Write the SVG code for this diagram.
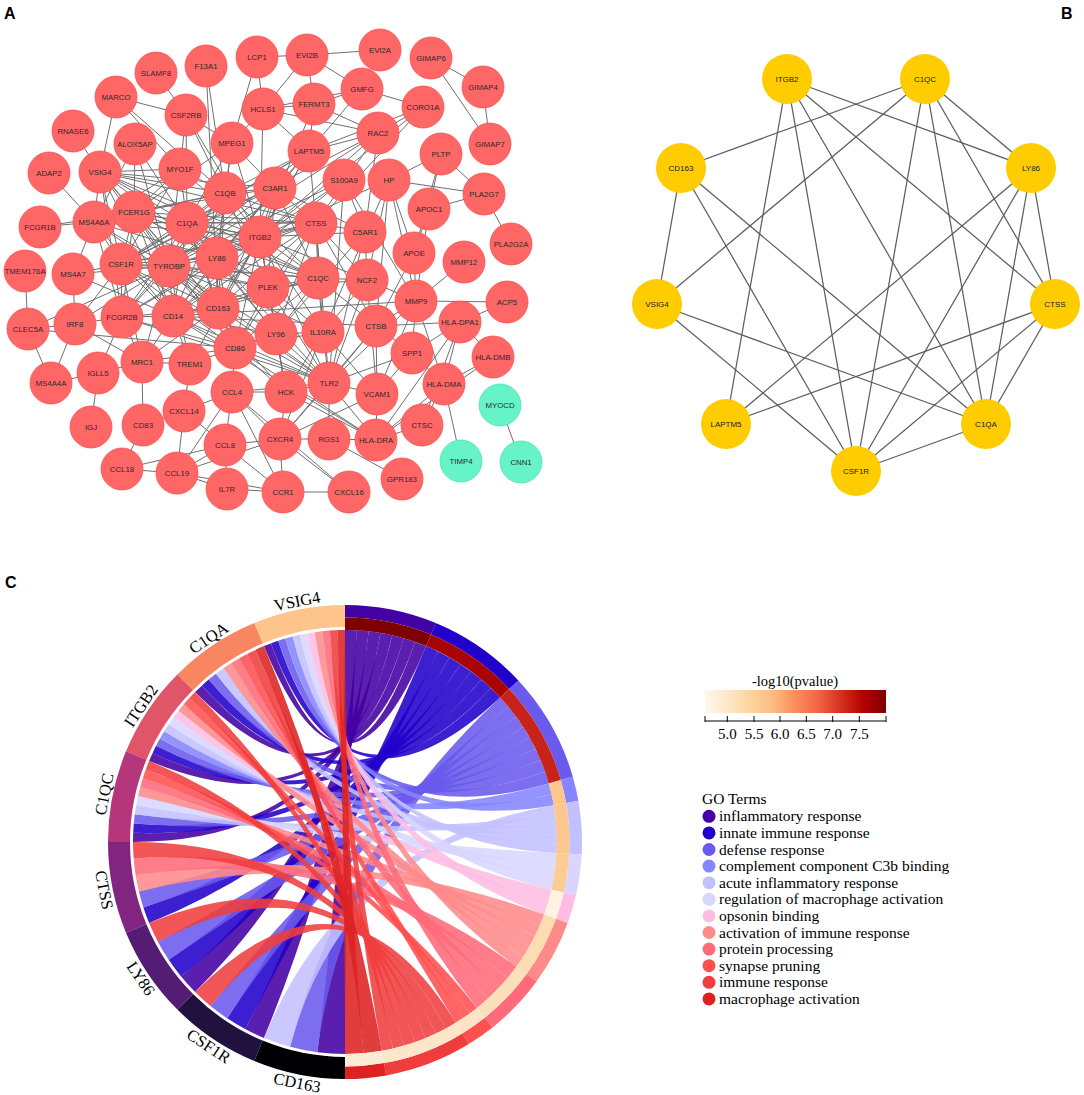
<svg xmlns="http://www.w3.org/2000/svg" width="1084" height="1095" viewBox="0 0 1084 1095">
<style>
.e path{stroke:#707070;stroke-width:1;fill:none}
.eb line{stroke:#5e5e5e;stroke-width:1.25}
.na circle{fill:#ff6666;stroke:#fa5050;stroke-width:.8}
.na .nt circle{fill:#66f3c8;stroke:#50e3b4}
.na text{font-family:"Liberation Sans",Arial,sans-serif;font-size:7.8px;fill:#2a2a2a;text-anchor:middle;dominant-baseline:central}
.nb circle{fill:#ffcc00}
.nb text{font-family:"Liberation Sans",Arial,sans-serif;font-size:8px;fill:#222;text-anchor:middle;dominant-baseline:central}
.pl{font-family:"Liberation Sans",Arial,sans-serif;font-weight:bold;font-size:16px;fill:#000}
.sf{font-family:"Liberation Serif","Times New Roman",serif;fill:#000}
.gl{font-size:16.5px;text-anchor:middle}
.rb path{fill-opacity:.88}
.c1{fill:#4300a3}.c2{fill:#2100cb}.c3{fill:#6a5aed}.c4{fill:#8585ff}.c5{fill:#c3c0ff}.c6{fill:#d8d6ff}
.c7{fill:#ffbde3}.c8{fill:#ff8a8a}.c9{fill:#ff6b7b}.c10{fill:#ff5050}.c11{fill:#ef3d3d}.c12{fill:#dd2222}
.lg text{font-size:15.5px}
</style>
<defs>
<linearGradient id="cbar" x1="0" x2="1" y1="0" y2="0">
<stop offset="0" stop-color="#fff7ec"/><stop offset=".125" stop-color="#fee8c8"/><stop offset=".25" stop-color="#fdd49e"/><stop offset=".375" stop-color="#fdbb84"/><stop offset=".5" stop-color="#fc8d59"/><stop offset=".625" stop-color="#ef6548"/><stop offset=".75" stop-color="#d7301f"/><stop offset=".875" stop-color="#b30000"/><stop offset="1" stop-color="#7f0000"/>
</linearGradient>
</defs>
<rect width="1084" height="1095" fill="#fff"/>
<text class="pl" x="4" y="19">A</text>
<text class="pl" x="1061" y="19">B</text>
<text class="pl" x="5" y="588">C</text>

<g id="connectors-a" class="e">
<path d="M100 172L94 222M100 172L134 212M100 172L187 223M100 172L225 193M100 172L275 188M100 172L260 237M100 172L121 264M100 172L169 266M100 172L217 258M100 172L173 316M100 172L218 308M100 172L122 317M100 172L318 278M100 172L180 169M100 172L316 223M100 172L73 131M100 172L116 97"/>
<path d="M94 222L134 212M94 222L187 223M94 222L121 264M94 222L169 266M94 222L217 258M94 222L173 316M94 222L218 308M94 222L122 317M94 222L260 237M94 222L225 193M94 222L316 223M94 222L40 227M94 222L49 173M94 222L73 274M94 222L135 144M94 222L180 169"/>
<path d="M134 212L187 223M134 212L225 193M134 212L260 237M134 212L121 264M134 212L169 266M134 212L217 258M134 212L173 316M134 212L218 308M134 212L122 317M134 212L235 348M134 212L316 223M134 212L318 278M134 212L268 287M134 212L275 188M134 212L40 227M134 212L135 144M134 212L232 143M134 212L180 169"/>
<path d="M187 223L225 193M187 223L260 237M187 223L121 264M187 223L169 266M187 223L217 258M187 223L318 278M187 223L218 308M187 223L173 316M187 223L316 223M187 223L275 188M187 223L122 317M187 223L235 348M187 223L268 287M187 223L276 334M187 223L309 151M187 223L135 144M187 223L186 115M187 223L232 143M187 223L180 169"/>
<path d="M225 193L260 237M225 193L275 188M225 193L169 266M225 193L217 258M225 193L318 278M225 193L218 308M225 193L316 223M225 193L121 264M225 193L173 316M225 193L122 317M225 193L268 287M225 193L206 66M225 193L309 151M225 193L116 97M225 193L186 115M225 193L232 143M225 193L180 169"/>
<path d="M275 188L260 237M275 188L316 223M275 188L169 266M275 188L217 258M275 188L318 278M275 188L218 308M275 188L173 316M275 188L268 287M275 188L121 264M275 188L309 151M275 188L365 232M275 188L232 143"/>
<path d="M260 237L316 223M260 237L121 264M260 237L169 266M260 237L217 258M260 237L318 278M260 237L173 316M260 237L218 308M260 237L122 317M260 237L235 348M260 237L268 287M260 237L276 334M260 237L329 383M260 237L323 332M260 237L367 280M260 237L286 392M260 237L190 364M260 237L423 107M260 237L314 104M260 237L263 109M260 237L378 133M260 237L309 151M260 237L389 180M260 237L344 180M260 237L365 232M260 237L186 115M260 237L232 143M260 237L180 169"/>
<path d="M316 223L169 266M316 223L217 258M316 223L318 278M316 223L218 308M316 223L173 316M316 223L121 264M316 223L268 287M316 223L235 348M316 223L276 334M316 223L323 332M316 223L367 280M316 223L329 383M316 223L423 107M316 223L378 133M316 223L309 151M316 223L365 232M316 223L376 326"/>
<path d="M121 264L169 266M121 264L217 258M121 264L173 316M121 264L218 308M121 264L122 317M121 264L235 348M121 264L318 278M121 264L268 287M121 264L142 362M121 264L329 383M121 264L378 133M121 264L309 151M121 264L75 324M121 264L73 274M121 264L180 169"/>
<path d="M169 266L217 258M169 266L173 316M169 266L218 308M169 266L122 317M169 266L235 348M169 266L318 278M169 266L268 287M169 266L190 364M169 266L329 383M169 266L276 334M169 266L142 362M169 266L286 392M169 266L323 332M169 266L378 133M169 266L309 151M169 266L344 180M169 266L28 329M169 266L75 324M169 266L73 274M169 266L135 144M169 266L180 169"/>
<path d="M217 258L173 316M217 258L218 308M217 258L318 278M217 258L268 287M217 258L276 334M217 258L235 348M217 258L329 383M217 258L122 317M217 258L309 151M217 258L232 143"/>
<path d="M318 278L218 308M318 278L173 316M318 278L268 287M318 278L235 348M318 278L323 332M318 278L367 280M318 278L276 334M318 278L376 326"/>
<path d="M173 316L218 308M173 316L122 317M173 316L235 348M173 316L329 383M173 316L276 334M173 316L190 364M173 316L142 362M173 316L268 287M173 316L344 180M173 316L416 301M173 316L376 326M173 316L376 440M173 316L73 274"/>
<path d="M218 308L235 348M218 308L268 287M218 308L142 362M218 308L329 383M218 308L122 317M218 308L206 66M218 308L309 151"/>
<path d="M122 317L235 348M122 317L329 383M122 317L142 362M122 317L75 324M122 317L98 373"/>
<path d="M235 348L329 383M235 348L276 334M235 348L268 287M235 348L190 364M235 348L323 332M235 348L286 392M235 348L232 392M235 348L376 440M235 348L28 329M235 348L142 362"/>
<path d="M268 287L276 334M268 287L323 332M268 287L329 383M268 287L286 392M268 287L367 280"/>
<path d="M276 334L329 383M276 334L323 332M276 334L286 392M276 334L365 232"/>
<path d="M323 332L329 383M323 332L286 392M323 332L367 280M323 332L389 180M323 332L377 394M323 332L280 439"/>
<path d="M329 383L286 392M329 383L367 280M329 383L344 180M329 383L365 232M329 383L416 301M329 383L376 326M329 383L412 353M329 383L377 394M329 383L376 440M329 383L329 439M329 383L280 439M329 383L232 392"/>
<path d="M156 73L186 115M257 57L232 143M257 57L263 109M257 57L307 55M307 55L380 50M307 55L314 104M307 55L263 109M307 55L362 89M431 58L483 87M431 58L490 144M483 87L490 144"/>
<path d="M362 89L423 107M362 89L314 104M362 89L309 151M362 89L263 109M423 107L378 133M423 107L309 151M314 104L378 133M314 104L263 109M314 104L309 151M263 109L378 133M263 109L309 151M263 109L232 143M378 133L309 151M378 133L365 232"/>
<path d="M389 180L441 154M389 180L484 194M389 180L414 253M389 180L376 326M389 180L416 301M389 180L367 280M441 154L429 209M441 154L414 253M441 154L484 194M429 209L484 194M429 209L414 253M429 209L416 301M484 194L511 244M344 180L416 301M344 180L365 232M365 232L367 280M414 253L416 301M414 253L376 326M464 262L416 301"/>
<path d="M416 301L507 302M416 301L412 353M416 301L376 326M416 301L377 394M416 301L444 384M416 301L367 280M507 302L460 322M460 322L493 357M460 322L444 384M460 322L376 440M460 322L376 326M460 322L412 353M460 322L422 425M493 357L444 384M493 357L376 440M444 384L461 461M444 384L422 425M444 384L376 440M444 384L412 353M500 405L521 462"/>
<path d="M376 440L422 425M376 440L377 394M376 440L329 439M376 440L286 392M376 326L377 394M376 326L412 353M412 353L377 394M377 394L280 439M377 394L367 280M329 439L402 479M329 439L280 439"/>
<path d="M280 439L283 492M280 439L349 492M280 439L232 392M280 439L225 445M280 439L177 473M280 439L286 392M280 439L376 326M283 492L349 492M283 492L225 445M283 492L232 392M283 492L177 473M283 492L227 489M232 392L225 445M232 392L286 392M232 392L177 473M232 392L184 411M232 392L349 492"/>
<path d="M225 445L177 473M225 445L184 411M225 445L227 489M225 445L122 469M177 473L122 469M177 473L227 489M177 473L184 411M122 469L143 425M143 425L142 362M143 425L184 411M184 411L190 364"/>
<path d="M142 362L98 373M142 362L190 364M142 362L75 324M98 373L51 383M98 373L91 427M51 383L28 329M51 383L75 324M28 329L25 271M28 329L75 324M75 324L73 274M116 97L186 115M116 97L180 169M186 115L180 169M186 115L232 143"/>
</g>

<g id="nodes-a" class="na">
<g id="a-SLAMF8" transform="translate(156 73)"><circle r="21"/><text>SLAMF8</text></g>
<g id="a-F13A1" transform="translate(206 66)"><circle r="21"/><text>F13A1</text></g>
<g id="a-LCP1" transform="translate(257 57)"><circle r="21"/><text>LCP1</text></g>
<g id="a-EVI2B" transform="translate(307 55)"><circle r="21"/><text>EVI2B</text></g>
<g id="a-EVI2A" transform="translate(380 50)"><circle r="21"/><text>EVI2A</text></g>
<g id="a-GIMAP6" transform="translate(431 58)"><circle r="21"/><text>GIMAP6</text></g>
<g id="a-GIMAP4" transform="translate(483 87)"><circle r="21"/><text>GIMAP4</text></g>
<g id="a-GMFG" transform="translate(362 89)"><circle r="21"/><text>GMFG</text></g>
<g id="a-MARCO" transform="translate(116 97)"><circle r="21"/><text>MARCO</text></g>
<g id="a-CSF2RB" transform="translate(186 115)"><circle r="21"/><text>CSF2RB</text></g>
<g id="a-HCLS1" transform="translate(263 109)"><circle r="21"/><text>HCLS1</text></g>
<g id="a-FERMT3" transform="translate(314 104)"><circle r="21"/><text>FERMT3</text></g>
<g id="a-CORO1A" transform="translate(423 107)"><circle r="21"/><text>CORO1A</text></g>
<g id="a-RNASE6" transform="translate(73 131)"><circle r="21"/><text>RNASE6</text></g>
<g id="a-ALOX5AP" transform="translate(135 144)"><circle r="21"/><text>ALOX5AP</text></g>
<g id="a-MPEG1" transform="translate(232 143)"><circle r="21"/><text>MPEG1</text></g>
<g id="a-RAC2" transform="translate(378 133)"><circle r="21"/><text>RAC2</text></g>
<g id="a-LAPTM5" transform="translate(309 151)"><circle r="21"/><text>LAPTM5</text></g>
<g id="a-GIMAP7" transform="translate(490 144)"><circle r="21"/><text>GIMAP7</text></g>
<g id="a-PLTP" transform="translate(441 154)"><circle r="21"/><text>PLTP</text></g>
<g id="a-ADAP2" transform="translate(49 173)"><circle r="21"/><text>ADAP2</text></g>
<g id="a-VSIG4" transform="translate(100 172)"><circle r="21"/><text>VSIG4</text></g>
<g id="a-MYO1F" transform="translate(180 169)"><circle r="21"/><text>MYO1F</text></g>
<g id="a-C1QB" transform="translate(225 193)"><circle r="21"/><text>C1QB</text></g>
<g id="a-C3AR1" transform="translate(275 188)"><circle r="21"/><text>C3AR1</text></g>
<g id="a-S100A9" transform="translate(344 180)"><circle r="21"/><text>S100A9</text></g>
<g id="a-HP" transform="translate(389 180)"><circle r="21"/><text>HP</text></g>
<g id="a-PLA2G7" transform="translate(484 194)"><circle r="21"/><text>PLA2G7</text></g>
<g id="a-APOC1" transform="translate(429 209)"><circle r="21"/><text>APOC1</text></g>
<g id="a-FCGR1B" transform="translate(40 227)"><circle r="21"/><text>FCGR1B</text></g>
<g id="a-MS4A6A" transform="translate(94 222)"><circle r="21"/><text>MS4A6A</text></g>
<g id="a-FCER1G" transform="translate(134 212)"><circle r="21"/><text>FCER1G</text></g>
<g id="a-C1QA" transform="translate(187 223)"><circle r="21"/><text>C1QA</text></g>
<g id="a-ITGB2" transform="translate(260 237)"><circle r="21"/><text>ITGB2</text></g>
<g id="a-CTSS" transform="translate(316 223)"><circle r="21"/><text>CTSS</text></g>
<g id="a-C5AR1" transform="translate(365 232)"><circle r="21"/><text>C5AR1</text></g>
<g id="a-PLA2G2A" transform="translate(511 244)"><circle r="21"/><text>PLA2G2A</text></g>
<g id="a-APOE" transform="translate(414 253)"><circle r="21"/><text>APOE</text></g>
<g id="a-MMP12" transform="translate(464 262)"><circle r="21"/><text>MMP12</text></g>
<g id="a-TMEM176A" transform="translate(25 271)"><circle r="21"/><text>TMEM176A</text></g>
<g id="a-MS4A7" transform="translate(73 274)"><circle r="21"/><text>MS4A7</text></g>
<g id="a-CSF1R" transform="translate(121 264)"><circle r="21"/><text>CSF1R</text></g>
<g id="a-TYROBP" transform="translate(169 266)"><circle r="21"/><text>TYROBP</text></g>
<g id="a-LY86" transform="translate(217 258)"><circle r="21"/><text>LY86</text></g>
<g id="a-PLEK" transform="translate(268 287)"><circle r="21"/><text>PLEK</text></g>
<g id="a-C1QC" transform="translate(318 278)"><circle r="21"/><text>C1QC</text></g>
<g id="a-NCF2" transform="translate(367 280)"><circle r="21"/><text>NCF2</text></g>
<g id="a-MMP9" transform="translate(416 301)"><circle r="21"/><text>MMP9</text></g>
<g id="a-ACP5" transform="translate(507 302)"><circle r="21"/><text>ACP5</text></g>
<g id="a-CLEC5A" transform="translate(28 329)"><circle r="21"/><text>CLEC5A</text></g>
<g id="a-IRF8" transform="translate(75 324)"><circle r="21"/><text>IRF8</text></g>
<g id="a-FCGR2B" transform="translate(122 317)"><circle r="21"/><text>FCGR2B</text></g>
<g id="a-CD14" transform="translate(173 316)"><circle r="21"/><text>CD14</text></g>
<g id="a-CD163" transform="translate(218 308)"><circle r="21"/><text>CD163</text></g>
<g id="a-HLA-DPA1" transform="translate(460 322)"><circle r="21"/><text>HLA-DPA1</text></g>
<g id="a-CTSB" transform="translate(376 326)"><circle r="21"/><text>CTSB</text></g>
<g id="a-LY96" transform="translate(276 334)"><circle r="21"/><text>LY96</text></g>
<g id="a-IL10RA" transform="translate(323 332)"><circle r="21"/><text>IL10RA</text></g>
<g id="a-CD86" transform="translate(235 348)"><circle r="21"/><text>CD86</text></g>
<g id="a-SPP1" transform="translate(412 353)"><circle r="21"/><text>SPP1</text></g>
<g id="a-HLA-DMB" transform="translate(493 357)"><circle r="21"/><text>HLA-DMB</text></g>
<g id="a-MS4A4A" transform="translate(51 383)"><circle r="21"/><text>MS4A4A</text></g>
<g id="a-IGLL5" transform="translate(98 373)"><circle r="21"/><text>IGLL5</text></g>
<g id="a-MRC1" transform="translate(142 362)"><circle r="21"/><text>MRC1</text></g>
<g id="a-TREM1" transform="translate(190 364)"><circle r="21"/><text>TREM1</text></g>
<g id="a-CCL4" transform="translate(232 392)"><circle r="21"/><text>CCL4</text></g>
<g id="a-HCK" transform="translate(286 392)"><circle r="21"/><text>HCK</text></g>
<g id="a-TLR2" transform="translate(329 383)"><circle r="21"/><text>TLR2</text></g>
<g id="a-VCAM1" transform="translate(377 394)"><circle r="21"/><text>VCAM1</text></g>
<g id="a-HLA-DMA" transform="translate(444 384)"><circle r="21"/><text>HLA-DMA</text></g>
<g id="a-MYOCD" class="nt" transform="translate(500 405)"><circle r="21"/><text>MYOCD</text></g>
<g id="a-IGJ" transform="translate(91 427)"><circle r="21"/><text>IGJ</text></g>
<g id="a-CD83" transform="translate(143 425)"><circle r="21"/><text>CD83</text></g>
<g id="a-CXCL14" transform="translate(184 411)"><circle r="21"/><text>CXCL14</text></g>
<g id="a-CCL8" transform="translate(225 445)"><circle r="21"/><text>CCL8</text></g>
<g id="a-CXCR4" transform="translate(280 439)"><circle r="21"/><text>CXCR4</text></g>
<g id="a-RGS1" transform="translate(329 439)"><circle r="21"/><text>RGS1</text></g>
<g id="a-HLA-DRA" transform="translate(376 440)"><circle r="21"/><text>HLA-DRA</text></g>
<g id="a-CTSC" transform="translate(422 425)"><circle r="21"/><text>CTSC</text></g>
<g id="a-CCL18" transform="translate(122 469)"><circle r="21"/><text>CCL18</text></g>
<g id="a-CCL19" transform="translate(177 473)"><circle r="21"/><text>CCL19</text></g>
<g id="a-IL7R" transform="translate(227 489)"><circle r="21"/><text>IL7R</text></g>
<g id="a-CCR1" transform="translate(283 492)"><circle r="21"/><text>CCR1</text></g>
<g id="a-CXCL16" transform="translate(349 492)"><circle r="21"/><text>CXCL16</text></g>
<g id="a-GPR183" transform="translate(402 479)"><circle r="21"/><text>GPR183</text></g>
<g id="a-TIMP4" class="nt" transform="translate(461 461)"><circle r="21"/><text>TIMP4</text></g>
<g id="a-CNN1" class="nt" transform="translate(521 462)"><circle r="21"/><text>CNN1</text></g>
</g>

<g id="connectors-b" class="eb">
<line x1="787" y1="79" x2="1031" y2="168"/><line x1="787" y1="79" x2="726" y2="424"/><line x1="787" y1="79" x2="856" y2="471"/><line x1="787" y1="79" x2="986" y2="424"/><line x1="787" y1="79" x2="1055" y2="304"/>
<line x1="925" y1="79" x2="681" y2="168"/><line x1="925" y1="79" x2="657" y2="304"/><line x1="925" y1="79" x2="856" y2="471"/><line x1="925" y1="79" x2="986" y2="424"/><line x1="925" y1="79" x2="1055" y2="304"/><line x1="925" y1="79" x2="1031" y2="168"/>
<line x1="681" y1="168" x2="657" y2="304"/><line x1="681" y1="168" x2="856" y2="471"/><line x1="681" y1="168" x2="986" y2="424"/>
<line x1="1031" y1="168" x2="726" y2="424"/><line x1="1031" y1="168" x2="856" y2="471"/><line x1="1031" y1="168" x2="986" y2="424"/><line x1="1031" y1="168" x2="1055" y2="304"/>
<line x1="657" y1="304" x2="986" y2="424"/><line x1="657" y1="304" x2="856" y2="471"/>
<line x1="1055" y1="304" x2="726" y2="424"/><line x1="1055" y1="304" x2="856" y2="471"/><line x1="1055" y1="304" x2="986" y2="424"/>
<line x1="986" y1="424" x2="856" y2="471"/>
</g>
<g id="nodes-b" class="nb">
<g id="b-ITGB2" transform="translate(787 79)"><circle r="25"/><text>ITGB2</text></g>
<g id="b-C1QC" transform="translate(925 79)"><circle r="25"/><text>C1QC</text></g>
<g id="b-CD163" transform="translate(681 168)"><circle r="25"/><text>CD163</text></g>
<g id="b-LY86" transform="translate(1031 168)"><circle r="25"/><text>LY86</text></g>
<g id="b-VSIG4" transform="translate(657 304)"><circle r="25"/><text>VSIG4</text></g>
<g id="b-CTSS" transform="translate(1055 304)"><circle r="25"/><text>CTSS</text></g>
<g id="b-LAPTM5" transform="translate(726 424)"><circle r="25"/><text>LAPTM5</text></g>
<g id="b-C1QA" transform="translate(986 424)"><circle r="25"/><text>C1QA</text></g>
<g id="b-CSF1R" transform="translate(856 471)"><circle r="25"/><text>CSF1R</text></g>
</g>

<g id="chords" class="rb">
<path class="c1" d="M345 630A212 212 0 0 1 356.9 630.3Q345 842 345 1054A212 212 0 0 1 317.3 1052.2Q345 842 345 630Z"/>
<path class="c1" d="M356.9 630.3A212 212 0 0 1 368.7 631.3Q345 842 263.9 1037.9A212 212 0 0 1 245.1 1029Q345 842 356.9 630.3Z"/>
<path class="c1" d="M368.7 631.3A212 212 0 0 1 380.5 633Q345 842 195.1 991.9A212 212 0 0 1 181.1 976.5Q345 842 368.7 631.3Z"/>
<path class="c1" d="M380.5 633A212 212 0 0 1 392.2 635.3Q345 842 133 842A212 212 0 0 1 133.2 832.8Q345 842 380.5 633Z"/>
<path class="c1" d="M392.2 635.3A212 212 0 0 1 403.7 638.3Q345 842 149.1 760.9A212 212 0 0 1 152.5 753.2Q345 842 392.2 635.3Z"/>
<path class="c1" d="M403.7 638.3A212 212 0 0 1 415 641.9Q345 842 195.1 692.1A212 212 0 0 1 201.8 685.7Q345 842 403.7 638.3Z"/>
<path class="c1" d="M415 641.9A212 212 0 0 1 426.1 646.1Q345 842 263.9 646.1A212 212 0 0 1 270.9 643.4Q345 842 415 641.9Z"/>
<path class="c2" d="M426.1 646.1A212 212 0 0 1 437.9 651.5Q345 842 245.1 1029A212 212 0 0 1 227.2 1018.3Q345 842 426.1 646.1Z"/>
<path class="c2" d="M437.9 651.5A212 212 0 0 1 449.4 657.5Q345 842 181.1 976.5A212 212 0 0 1 168.7 959.8Q345 842 437.9 651.5Z"/>
<path class="c2" d="M449.4 657.5A212 212 0 0 1 460.5 664.2Q345 842 149.1 923.1A212 212 0 0 1 143.4 907.5Q345 842 449.4 657.5Z"/>
<path class="c2" d="M460.5 664.2A212 212 0 0 1 471.1 671.6Q345 842 133.2 832.8A212 212 0 0 1 133.8 823.5Q345 842 460.5 664.2Z"/>
<path class="c2" d="M471.1 671.6A212 212 0 0 1 481.3 679.6Q345 842 152.5 753.2A212 212 0 0 1 156.1 745.8Q345 842 471.1 671.6Z"/>
<path class="c2" d="M481.3 679.6A212 212 0 0 1 490.9 688.2Q345 842 201.8 685.7A212 212 0 0 1 208.7 679.6Q345 842 481.3 679.6Z"/>
<path class="c2" d="M490.9 688.2A212 212 0 0 1 500.1 697.4Q345 842 270.9 643.4A212 212 0 0 1 278.1 640.8Q345 842 490.9 688.2Z"/>
<path class="c3" d="M500.1 697.4A212 212 0 0 1 508.3 706.8Q345 842 317.3 1052.2A212 212 0 0 1 290.1 1046.8Q345 842 500.1 697.4Z"/>
<path class="c3" d="M508.3 706.8A212 212 0 0 1 516 716.6Q345 842 227.2 1018.3A212 212 0 0 1 210.5 1005.9Q345 842 508.3 706.8Z"/>
<path class="c3" d="M516 716.6A212 212 0 0 1 523.1 726.9Q345 842 168.7 959.8A212 212 0 0 1 158 941.9Q345 842 516 716.6Z"/>
<path class="c3" d="M523.1 726.9A212 212 0 0 1 529.5 737.6Q345 842 143.4 907.5A212 212 0 0 1 138.9 891.5Q345 842 523.1 726.9Z"/>
<path class="c3" d="M529.5 737.6A212 212 0 0 1 535.3 748.7Q345 842 133.8 823.5A212 212 0 0 1 134.8 814.3Q345 842 529.5 737.6Z"/>
<path class="c3" d="M535.3 748.7A212 212 0 0 1 540.5 760Q345 842 156.1 745.8A212 212 0 0 1 160 738.4Q345 842 535.3 748.7Z"/>
<path class="c3" d="M540.5 760A212 212 0 0 1 545 771.7Q345 842 208.7 679.6A212 212 0 0 1 215.9 673.8Q345 842 540.5 760Z"/>
<path class="c3" d="M545 771.7A212 212 0 0 1 548.8 783.6Q345 842 278.1 640.8A212 212 0 0 1 285.3 638.6Q345 842 545 771.7Z"/>
<path class="c4" d="M548.8 783.6A212 212 0 0 1 551.6 794.3Q345 842 160 738.4A212 212 0 0 1 164.2 731.2Q345 842 548.8 783.6Z"/>
<path class="c4" d="M551.6 794.3A212 212 0 0 1 553.8 805.2Q345 842 285.3 638.6A212 212 0 0 1 292.6 636.6Q345 842 551.6 794.3Z"/>
<path class="c5" d="M553.8 805.2A212 212 0 0 1 555.2 814.7Q345 842 290.1 1046.8A212 212 0 0 1 263.9 1037.9Q345 842 553.8 805.2Z"/>
<path class="c5" d="M555.2 814.7A212 212 0 0 1 556.3 824.3Q345 842 134.8 814.3A212 212 0 0 1 136.2 805.2Q345 842 555.2 814.7Z"/>
<path class="c5" d="M556.3 824.3A212 212 0 0 1 556.8 833.9Q345 842 164.2 731.2A212 212 0 0 1 168.7 724.2Q345 842 556.3 824.3Z"/>
<path class="c5" d="M556.8 833.9A212 212 0 0 1 557 843.5Q345 842 215.9 673.8A212 212 0 0 1 223.4 668.3Q345 842 556.8 833.9Z"/>
<path class="c5" d="M557 843.5A212 212 0 0 1 556.7 853.1Q345 842 292.6 636.6A212 212 0 0 1 299.9 634.8Q345 842 557 843.5Z"/>
<path class="c6" d="M556.7 853.1A212 212 0 0 1 555.7 865.4Q345 842 136.2 805.2A212 212 0 0 1 138 796.1Q345 842 556.7 853.1Z"/>
<path class="c6" d="M555.7 865.4A212 212 0 0 1 554 877.6Q345 842 168.7 724.2A212 212 0 0 1 173.5 717.4Q345 842 555.7 865.4Z"/>
<path class="c6" d="M554 877.6A212 212 0 0 1 551.6 889.7Q345 842 299.9 634.8A212 212 0 0 1 307.4 633.4Q345 842 554 877.6Z"/>
<path class="c7" d="M551.6 889.7A212 212 0 0 1 548.3 902.2Q345 842 173.5 717.4A212 212 0 0 1 178.5 710.8Q345 842 551.6 889.7Z"/>
<path class="c7" d="M548.3 902.2A212 212 0 0 1 544.2 914.5Q345 842 307.4 633.4A212 212 0 0 1 314.8 632.2Q345 842 548.3 902.2Z"/>
<path class="c8" d="M544.2 914.5A212 212 0 0 1 539.9 925.5Q345 842 138.9 891.5A212 212 0 0 1 135.6 875.2Q345 842 544.2 914.5Z"/>
<path class="c8" d="M539.9 925.5A212 212 0 0 1 534.9 936.3Q345 842 138 796.1A212 212 0 0 1 140.2 787.1Q345 842 539.9 925.5Z"/>
<path class="c8" d="M534.9 936.3A212 212 0 0 1 529.3 946.7Q345 842 178.5 710.8A212 212 0 0 1 183.8 704.3Q345 842 534.9 936.3Z"/>
<path class="c8" d="M529.3 946.7A212 212 0 0 1 523.2 956.8Q345 842 223.4 668.3A212 212 0 0 1 231.1 663.2Q345 842 529.3 946.7Z"/>
<path class="c8" d="M523.2 956.8A212 212 0 0 1 516.5 966.6Q345 842 314.8 632.2A212 212 0 0 1 322.3 631.2Q345 842 523.2 956.8Z"/>
<path class="c9" d="M516.5 966.6A212 212 0 0 1 507.7 977.9Q345 842 135.6 875.2A212 212 0 0 1 133.7 858.6Q345 842 516.5 966.6Z"/>
<path class="c9" d="M507.7 977.9A212 212 0 0 1 498.1 988.6Q345 842 140.2 787.1A212 212 0 0 1 142.8 778.3Q345 842 507.7 977.9Z"/>
<path class="c9" d="M498.1 988.6A212 212 0 0 1 487.9 998.6Q345 842 231.1 663.2A212 212 0 0 1 239 658.4Q345 842 498.1 988.6Z"/>
<path class="c9" d="M487.9 998.6A212 212 0 0 1 477 1007.9Q345 842 322.3 631.2A212 212 0 0 1 329.9 630.5Q345 842 487.9 998.6Z"/>
<path class="c10" d="M477 1007.9A212 212 0 0 1 470.1 1013.2Q345 842 142.8 778.3A212 212 0 0 1 145.8 769.5Q345 842 477 1007.9Z"/>
<path class="c10" d="M470.1 1013.2A212 212 0 0 1 463 1018.1Q345 842 183.8 704.3A212 212 0 0 1 189.3 698.1Q345 842 470.1 1013.2Z"/>
<path class="c10" d="M463 1018.1A212 212 0 0 1 455.8 1022.8Q345 842 239 658.4A212 212 0 0 1 247.1 654Q345 842 463 1018.1Z"/>
<path class="c11" d="M455.8 1022.8A212 212 0 0 1 445.9 1028.4Q345 842 210.5 1005.9A212 212 0 0 1 195.1 991.9Q345 842 455.8 1022.8Z"/>
<path class="c11" d="M445.9 1028.4A212 212 0 0 1 435.8 1033.6Q345 842 158 941.9A212 212 0 0 1 149.1 923.1Q345 842 445.9 1028.4Z"/>
<path class="c11" d="M435.8 1033.6A212 212 0 0 1 425.4 1038.2Q345 842 133.7 858.6A212 212 0 0 1 133 842Q345 842 435.8 1033.6Z"/>
<path class="c11" d="M425.4 1038.2A212 212 0 0 1 414.8 1042.2Q345 842 145.8 769.5A212 212 0 0 1 149.1 760.9Q345 842 425.4 1038.2Z"/>
<path class="c11" d="M414.8 1042.2A212 212 0 0 1 403.9 1045.6Q345 842 189.3 698.1A212 212 0 0 1 195.1 692.1Q345 842 414.8 1042.2Z"/>
<path class="c11" d="M403.9 1045.6A212 212 0 0 1 393 1048.5Q345 842 247.1 654A212 212 0 0 1 255.4 649.9Q345 842 403.9 1045.6Z"/>
<path class="c11" d="M393 1048.5A212 212 0 0 1 381.8 1050.8Q345 842 329.9 630.5A212 212 0 0 1 337.4 630.1Q345 842 393 1048.5Z"/>
<path class="c12" d="M381.8 1050.8A212 212 0 0 1 363.5 1053.2Q345 842 255.4 649.9A212 212 0 0 1 263.9 646.1Q345 842 381.8 1050.8Z"/>
<path class="c12" d="M363.5 1053.2A212 212 0 0 1 345 1054Q345 842 337.4 630.1A212 212 0 0 1 345 630Q345 842 363.5 1053.2Z"/>
</g>

<g id="gene-VSIG4"><path fill="#fdc58c" d="M254.3 623A237 237 0 0 1 345 605L345 627A215 215 0 0 0 262.7 643.4Z"/><text class="sf gl" transform="translate(298.2 606.6) rotate(-11.25)">VSIG4</text></g>
<g id="gene-C1QA"><path fill="#f88660" d="M177.4 674.4A237 237 0 0 1 254.3 623L262.7 643.4A215 215 0 0 0 193 690Z"/><text class="sf gl" transform="translate(211.7 642.5) rotate(-33.75)">C1QA</text></g>
<g id="gene-ITGB2"><path fill="#e05568" d="M126 751.3A237 237 0 0 1 177.4 674.4L193 690A215 215 0 0 0 146.4 759.7Z"/><text class="sf gl" transform="translate(145.5 708.7) rotate(-56.25)">ITGB2</text></g>
<g id="gene-C1QC"><path fill="#b5367a" d="M108 842A237 237 0 0 1 126 751.3L146.4 759.7A215 215 0 0 0 130 842Z"/><text class="sf gl" transform="translate(109.6 795.2) rotate(-78.75)">C1QC</text></g>
<g id="gene-CTSS"><path fill="#822580" d="M126 932.7A237 237 0 0 1 108 842L130 842A215 215 0 0 0 146.4 924.3Z"/><text class="sf gl" transform="translate(98.8 891) rotate(78.75)">CTSS</text></g>
<g id="gene-LY86"><path fill="#541c72" d="M177.4 1009.6A237 237 0 0 1 126 932.7L146.4 924.3A215 215 0 0 0 193 994Z"/><text class="sf gl" transform="translate(136.3 981.5) rotate(56.25)">LY86</text></g>
<g id="gene-CSF1R"><path fill="#20113f" d="M254.3 1061A237 237 0 0 1 177.4 1009.6L193 994A215 215 0 0 0 262.7 1040.6Z"/><text class="sf gl" transform="translate(205.6 1050.7) rotate(33.75)">CSF1R</text></g>
<g id="gene-CD163"><path fill="#000004" d="M345 1079A237 237 0 0 1 254.3 1061L262.7 1040.6A215 215 0 0 0 345 1057Z"/><text class="sf gl" transform="translate(296 1088.2) rotate(11.25)">CD163</text></g>

<g id="term-1"><path class="c1" d="M345 605A237 237 0 0 1 435.7 623L430.9 634.6A224.5 224.5 0 0 0 345 617.5Z"/><path fill="#7f0000" d="M345 617.5A224.5 224.5 0 0 1 430.9 634.6L426.1 646.1A212 212 0 0 0 345 630Z"/></g>
<g id="term-2"><path class="c2" d="M435.7 623A237 237 0 0 1 518.3 680.4L509.2 688.9A224.5 224.5 0 0 0 430.9 634.6Z"/><path fill="#a90303" d="M430.9 634.6A224.5 224.5 0 0 1 509.2 688.9L500.1 697.4A212 212 0 0 0 426.1 646.1Z"/></g>
<g id="term-3"><path class="c3" d="M518.3 680.4A237 237 0 0 1 572.8 776.7L560.8 780.1A224.5 224.5 0 0 0 509.2 688.9Z"/><path fill="#c8231a" d="M509.2 688.9A224.5 224.5 0 0 1 560.8 780.1L548.8 783.6A212 212 0 0 0 500.1 697.4Z"/></g>
<g id="term-4"><path class="c4" d="M572.8 776.7A237 237 0 0 1 578.4 800.8L566.1 803A224.5 224.5 0 0 0 560.8 780.1Z"/><path fill="#fdc68c" d="M560.8 780.1A224.5 224.5 0 0 1 566.1 803L553.8 805.2A212 212 0 0 0 548.8 783.6Z"/></g>
<g id="term-5"><path class="c5" d="M578.4 800.8A237 237 0 0 1 581.7 854.4L569.2 853.8A224.5 224.5 0 0 0 566.1 803Z"/><path fill="#fdc68c" d="M566.1 803A224.5 224.5 0 0 1 569.2 853.8L556.7 853.1A212 212 0 0 0 553.8 805.2Z"/></g>
<g id="term-6"><path class="c6" d="M581.7 854.4A237 237 0 0 1 575.9 895.3L563.8 892.5A224.5 224.5 0 0 0 569.2 853.8Z"/><path fill="#fdcc92" d="M569.2 853.8A224.5 224.5 0 0 1 563.8 892.5L551.6 889.7A212 212 0 0 0 556.7 853.1Z"/></g>
<g id="term-7"><path class="c7" d="M575.9 895.3A237 237 0 0 1 567.7 923.1L556 918.8A224.5 224.5 0 0 0 563.8 892.5Z"/><path fill="#fff2e2" d="M563.8 892.5A224.5 224.5 0 0 1 556 918.8L544.2 914.5A212 212 0 0 0 551.6 889.7Z"/></g>
<g id="term-8"><path class="c8" d="M567.7 923.1A237 237 0 0 1 536.7 981.3L526.6 974A224.5 224.5 0 0 0 556 918.8Z"/><path fill="#fddcb4" d="M556 918.8A224.5 224.5 0 0 1 526.6 974L516.5 966.6A212 212 0 0 0 544.2 914.5Z"/></g>
<g id="term-9"><path class="c9" d="M536.7 981.3A237 237 0 0 1 492.5 1027.5L484.8 1017.7A224.5 224.5 0 0 0 526.6 974Z"/><path fill="#fddfb9" d="M526.6 974A224.5 224.5 0 0 1 484.8 1017.7L477 1007.9A212 212 0 0 0 516.5 966.6Z"/></g>
<g id="term-10"><path class="c10" d="M492.5 1027.5A237 237 0 0 1 468.8 1044.1L462.3 1033.4A224.5 224.5 0 0 0 484.8 1017.7Z"/><path fill="#fee4c4" d="M484.8 1017.7A224.5 224.5 0 0 1 462.3 1033.4L455.8 1022.8A212 212 0 0 0 477 1007.9Z"/></g>
<g id="term-11"><path class="c11" d="M468.8 1044.1A237 237 0 0 1 386.2 1075.4L384 1063.1A224.5 224.5 0 0 0 462.3 1033.4Z"/><path fill="#fee6c8" d="M462.3 1033.4A224.5 224.5 0 0 1 384 1063.1L381.8 1050.8A212 212 0 0 0 455.8 1022.8Z"/></g>
<g id="term-12"><path class="c12" d="M386.2 1075.4A237 237 0 0 1 345 1079L345 1066.5A224.5 224.5 0 0 0 384 1063.1Z"/><path fill="#feebd4" d="M384 1063.1A224.5 224.5 0 0 1 345 1066.5L345 1054A212 212 0 0 0 381.8 1050.8Z"/></g>

<g id="colorbar">
<text class="sf" x="795" y="686" font-size="14.5" text-anchor="middle">-log10(pvalue)</text>
<rect x="705" y="690" width="181" height="23" fill="url(#cbar)"/>
<path d="M705 721H886M705 716V722M727.3 716V722M754 716V722M780 716V722M806.3 716V722M832.7 716V722M859.3 716V722M886 716V722" stroke="#000" stroke-width="1" fill="none"/>
<g class="sf" font-size="15" text-anchor="middle">
<text x="727.3" y="739">5.0</text><text x="754" y="739">5.5</text><text x="780" y="739">6.0</text><text x="806.3" y="739">6.5</text><text x="832.7" y="739">7.0</text><text x="859.3" y="739">7.5</text>
</g>
</g>

<g id="go-legend" class="lg sf">
<text x="702" y="804">GO Terms</text>
<g id="lg-1"><circle class="c1" cx="709" cy="816.3" r="6.5"/><text x="719" y="821.3">inflammatory response</text></g>
<g id="lg-2"><circle class="c2" cx="709" cy="832.9" r="6.5"/><text x="719" y="837.9">innate immune response</text></g>
<g id="lg-3"><circle class="c3" cx="709" cy="849.5" r="6.5"/><text x="719" y="854.5">defense response</text></g>
<g id="lg-4"><circle class="c4" cx="709" cy="866.1" r="6.5"/><text x="719" y="871.1">complement component C3b binding</text></g>
<g id="lg-5"><circle class="c5" cx="709" cy="882.7" r="6.5"/><text x="719" y="887.7">acute inflammatory response</text></g>
<g id="lg-6"><circle class="c6" cx="709" cy="899.3" r="6.5"/><text x="719" y="904.3">regulation of macrophage activation</text></g>
<g id="lg-7"><circle class="c7" cx="709" cy="915.9" r="6.5"/><text x="719" y="920.9">opsonin binding</text></g>
<g id="lg-8"><circle class="c8" cx="709" cy="932.5" r="6.5"/><text x="719" y="937.5">activation of immune response</text></g>
<g id="lg-9"><circle class="c9" cx="709" cy="949.1" r="6.5"/><text x="719" y="954.1">protein processing</text></g>
<g id="lg-10"><circle class="c10" cx="709" cy="965.7" r="6.5"/><text x="719" y="970.7">synapse pruning</text></g>
<g id="lg-11"><circle class="c11" cx="709" cy="982.3" r="6.5"/><text x="719" y="987.3">immune response</text></g>
<g id="lg-12"><circle class="c12" cx="709" cy="998.9" r="6.5"/><text x="719" y="1003.9">macrophage activation</text></g>
</g>
</svg>
